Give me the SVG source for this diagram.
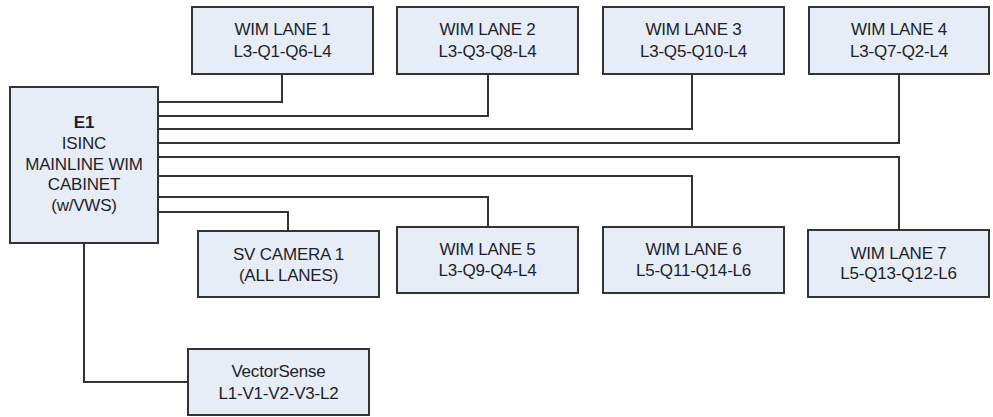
<svg xmlns="http://www.w3.org/2000/svg" width="993" height="417" viewBox="0 0 993 417">
<style>
.box{fill:#e6edf7;stroke:#333;stroke-width:2}
.t{font-family:"Liberation Sans",Arial,sans-serif;font-size:17px;fill:#1e1e2a;text-anchor:middle;letter-spacing:-0.2px}
.b{font-weight:bold}
.c{fill:none;stroke:#333;stroke-width:2}
</style>
<rect width="993" height="417" fill="#fff"/>
<g id="connectors">
<polyline class="c" points="158,102 282,102 282,74"/>
<polyline class="c" points="158,116 488,116 488,74"/>
<polyline class="c" points="158,129 692,129 692,74"/>
<polyline class="c" points="158,143 899,143 899,74"/>
<polyline class="c" points="158,157 899,157 899,230"/>
<polyline class="c" points="158,176 692,176 692,227"/>
<polyline class="c" points="158,197 488,197 488,227"/>
<polyline class="c" points="158,212 288,212 288,231"/>
<polyline class="c" points="84,243 84,382 188,382"/>
</g>
<g id="e1">
<rect class="box" x="10" y="87" width="148" height="156"/>
<text class="t b" x="84" y="128">E1</text>
<text class="t" x="84" y="149">ISINC</text>
<text class="t" x="84" y="170">MAINLINE WIM</text>
<text class="t" x="84" y="190">CABINET</text>
<text class="t" x="84" y="211">(w/VWS)</text>
</g>
<g id="lane1">
<rect class="box" x="192" y="7" width="181" height="67"/>
<text class="t" x="282.5" y="35">WIM LANE 1</text>
<text class="t" x="282.5" y="57">L3-Q1-Q6-L4</text>
</g>
<g id="lane2">
<rect class="box" x="397" y="7" width="181" height="67"/>
<text class="t" x="487.5" y="35">WIM LANE 2</text>
<text class="t" x="487.5" y="57">L3-Q3-Q8-L4</text>
</g>
<g id="lane3">
<rect class="box" x="603" y="7" width="181" height="67"/>
<text class="t" x="693.5" y="35">WIM LANE 3</text>
<text class="t" x="693.5" y="57">L3-Q5-Q10-L4</text>
</g>
<g id="lane4">
<rect class="box" x="809" y="7" width="180" height="67"/>
<text class="t" x="899" y="35">WIM LANE 4</text>
<text class="t" x="899" y="57">L3-Q7-Q2-L4</text>
</g>
<g id="svcamera1">
<rect class="box" x="198" y="231" width="181" height="66"/>
<text class="t" x="288.5" y="260">SV CAMERA 1</text>
<text class="t" x="288.5" y="281">(ALL LANES)</text>
</g>
<g id="lane5">
<rect class="box" x="397" y="227" width="181" height="66"/>
<text class="t" x="487.5" y="255">WIM LANE 5</text>
<text class="t" x="487.5" y="276">L3-Q9-Q4-L4</text>
</g>
<g id="lane6">
<rect class="box" x="603" y="227" width="181" height="66"/>
<text class="t" x="693.5" y="255">WIM LANE 6</text>
<text class="t" x="693.5" y="276">L5-Q11-Q14-L6</text>
</g>
<g id="lane7">
<rect class="box" x="808" y="230" width="181" height="67"/>
<text class="t" x="898.5" y="259">WIM LANE 7</text>
<text class="t" x="898.5" y="279">L5-Q13-Q12-L6</text>
</g>
<g id="vectorsense">
<rect class="box" x="188" y="349" width="181" height="66"/>
<text class="t" x="278.5" y="377">VectorSense</text>
<text class="t" x="278.5" y="399">L1-V1-V2-V3-L2</text>
</g>
</svg>
